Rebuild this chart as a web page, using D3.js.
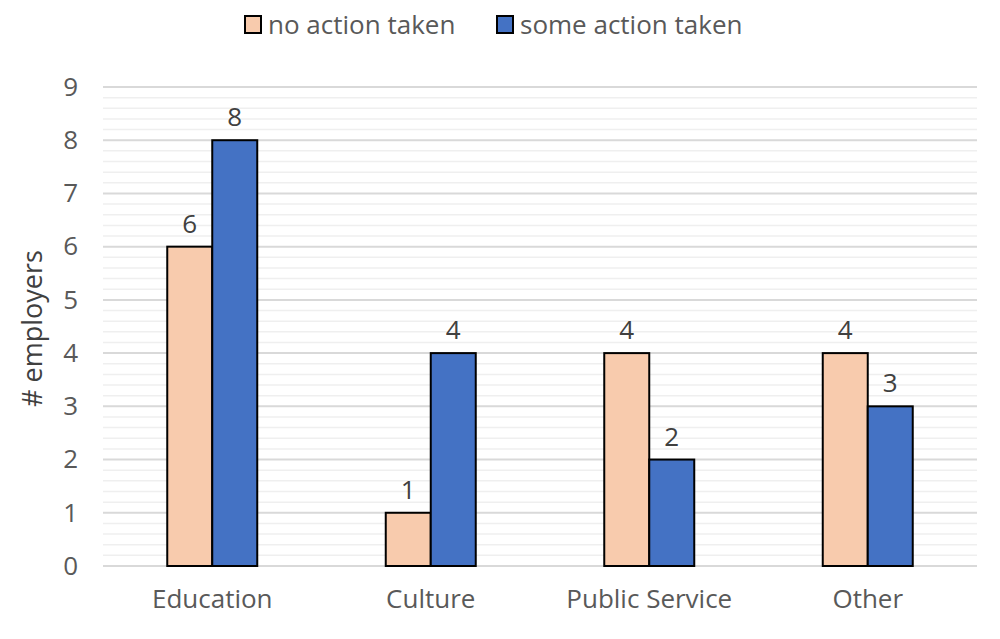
<!DOCTYPE html>
<html>
<head>
<meta charset="utf-8">
<script src="https://cdn.jsdelivr.net/npm/d3@7"></script>
<style>
  body { margin: 0; background: #fff; }
  text { font-family: "Open Sans", sans-serif; fill: #595959; }
</style>
</head>
<body>
<svg id="chart" width="1000" height="639"></svg>
<script>
// chart data
var categories = ["Education", "Culture", "Public Service", "Other"];
var seriesNames = ["no action taken", "some action taken"];
var noAction = [6, 1, 4, 4];
var someAction = [8, 4, 2, 3];
var yTicks = [0, 1, 2, 3, 4, 5, 6, 7, 8, 9];

var colors = ["#F8CBAD", "#4472C4"];

var svg = d3.select("#chart");
var margin = { left: 103, right: 23, top: 87, bottom: 73 };
var width = 1000 - margin.left - margin.right;
var height = 639 - margin.top - margin.bottom;

var g = svg.append("g").attr("transform", "translate(" + margin.left + "," + margin.top + ")");

var x = d3.scaleBand().domain(categories).range([0, width]);
var x1 = d3.scaleBand().domain(seriesNames)
  .range([x.bandwidth() / 2 - 45, x.bandwidth() / 2 + 45]);
var y = d3.scaleLinear().domain([0, 9]).range([height, 0]);

// minor gridlines every 0.2
var minor = d3.range(0, 9.01, 0.2).filter(function(v) {
  return Math.abs(v - Math.round(v)) > 0.01;
});
g.selectAll(".minor").data(minor).enter().append("line")
  .attr("x1", 0).attr("x2", width)
  .attr("y1", function(d) { return y(d); })
  .attr("y2", function(d) { return y(d); })
  .attr("stroke", "#EFEFEF").attr("stroke-width", 1.5);

// major gridlines
g.selectAll(".major").data(yTicks).enter().append("line")
  .attr("x1", 0).attr("x2", width)
  .attr("y1", function(d) { return y(d); })
  .attr("y2", function(d) { return y(d); })
  .attr("stroke", "#D9D9D9").attr("stroke-width", 2);

// y axis labels
var yAxis = g.append("g").call(d3.axisLeft(y).tickValues(yTicks).tickSize(0).tickPadding(25));
yAxis.select(".domain").remove();
yAxis.selectAll("text").attr("font-size", 26).attr("fill", "#595959")
  .style("font-family", "'Open Sans', sans-serif");

// x axis labels
var xAxis = g.append("g").attr("transform", "translate(0," + height + ")")
  .call(d3.axisBottom(x).tickSize(0).tickPadding(24));
xAxis.select(".domain").remove();
xAxis.selectAll("text").attr("font-size", 26).attr("fill", "#595959")
  .style("font-family", "'Open Sans', sans-serif");

// bars
var rows = categories.map(function(c, i) {
  return { cat: c, vals: [noAction[i], someAction[i]] };
});

var groups = g.selectAll(".grp").data(rows).enter().append("g")
  .attr("transform", function(d) { return "translate(" + x(d.cat) + ",0)"; });

groups.selectAll("rect").data(function(d) {
  return d.vals.map(function(v, j) { return { name: seriesNames[j], v: v, j: j }; });
}).enter().append("rect")
  .attr("x", function(d) { return x1(d.name); })
  .attr("width", x1.bandwidth())
  .attr("y", function(d) { return y(d.v); })
  .attr("height", function(d) { return height - y(d.v); })
  .attr("fill", function(d) { return colors[d.j]; })
  .attr("stroke", "#000").attr("stroke-width", 2);

groups.selectAll(".lbl").data(function(d) {
  return d.vals.map(function(v, j) { return { name: seriesNames[j], v: v }; });
}).enter().append("text")
  .attr("x", function(d) { return x1(d.name) + x1.bandwidth() / 2; })
  .attr("y", function(d) { return y(d.v) - 14; })
  .attr("text-anchor", "middle")
  .attr("font-size", 26)
  .style("fill", "#404040")
  .text(function(d) { return d.v; });

// y axis title
svg.append("text")
  .attr("transform", "translate(42," + (margin.top + height / 2 + 2) + ") rotate(-90)")
  .attr("text-anchor", "middle")
  .attr("font-size", 27)
  .style("fill", "#404040")
  .text("# employers");

// legend
var legendX = [245, 497];
var legend = svg.selectAll(".leg").data(seriesNames).enter().append("g")
  .attr("transform", function(d, i) { return "translate(" + legendX[i] + ",14)"; });
legend.append("rect")
  .attr("width", 16).attr("height", 17).attr("y", 2)
  .attr("fill", function(d, i) { return colors[i]; })
  .attr("stroke", "#000").attr("stroke-width", 2);
legend.append("text")
  .attr("x", 23).attr("y", 20)
  .attr("font-size", 26)
  .text(function(d) { return d; });
</script>
</body>
</html>
